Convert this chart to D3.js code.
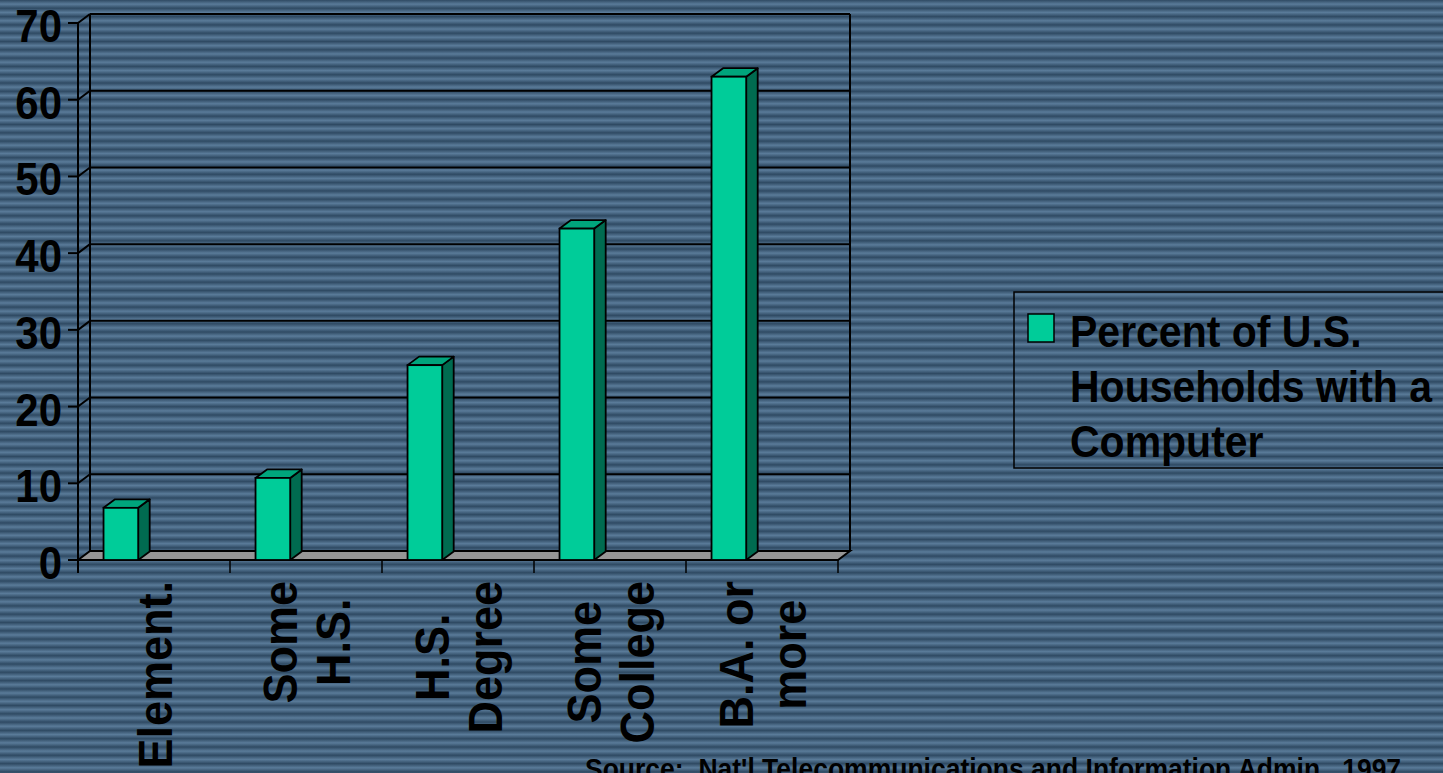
<!DOCTYPE html>
<html>
<head>
<meta charset="utf-8">
<script src="https://cdn.jsdelivr.net/npm/d3@7"></script>
<style>
  html, body { margin: 0; padding: 0; }
  body {
    width: 1443px; height: 773px; overflow: hidden;
    background: repeating-linear-gradient(180deg,
      #2f4a63 0px, #5a7b99 4.15px, #2f4a63 8.3px);
  }
  svg { display: block; }
  text { font-family: "Liberation Sans", Arial, sans-serif; font-weight: bold; fill: #000; }
</style>
</head>
<body>
<svg id="chart" width="1443" height="773"></svg>
<script>
// Household computer ownership by education level, 1997
const categories = ["Element.", "Some H.S.", "H.S. Degree", "Some College", "B.A. or more"];
const labelLines = [["Element."], ["Some", "H.S."], ["H.S.", "Degree"], ["Some", "College"], ["B.A. or", "more"]];
const values = [6.8, 10.7, 25.4, 43.2, 63.0];
const yTicks = [0, 10, 20, 30, 40, 50, 60, 70];
const seriesName = ["Percent of U.S.", "Households with a", "Computer"];
const sourceNote = "Source:\u00a0 Nat'l Telecommunications and Information Admin., 1997";

const svg = d3.select("#chart");
const stretch = 1.08;   // glyphs drawn slightly taller than wide

// front plane scales
const x = d3.scaleBand().domain(categories).range([78, 838]).paddingInner(0).paddingOuter(0);
const y = d3.scaleLinear().domain([0, 70]).range([560, 23]);
const wallDx = 12, wallDy = -9;    // depth offset of back wall
const barDx = 11.5, barDy = -8.5;  // depth of each column

const frame = svg.append("g").attr("stroke", "#000").attr("fill", "none");

// floor
const x0 = x.range()[0], x1 = x.range()[1], yBase = y(0);
svg.append("polygon")
  .attr("points", [[x0, yBase], [x1, yBase], [x1 + wallDx, yBase + wallDy], [x0 + wallDx, yBase + wallDy]].map(p => p.join(",")).join(" "))
  .attr("fill", "#969696").attr("stroke", "#000").attr("stroke-width", 2);

// back wall gridlines, side-wall diagonals and axis ticks
yTicks.forEach(v => {
  const yy = y(v);
  frame.append("line").attr("x1", x0 - 10).attr("x2", x0).attr("y1", yy).attr("y2", yy).attr("stroke-width", 2);
  if (v > 0) {
    frame.append("line").attr("x1", x0).attr("y1", yy).attr("x2", x0 + wallDx).attr("y2", yy + wallDy).attr("stroke-width", 2);
    frame.append("line").attr("x1", x0 + wallDx).attr("x2", x1 + wallDx)
      .attr("y1", yy + wallDy).attr("y2", yy + wallDy).attr("stroke-width", 2);
  }
});
// wall edges
frame.append("line").attr("x1", x0 + wallDx).attr("x2", x0 + wallDx)
  .attr("y1", y(70) + wallDy).attr("y2", yBase + wallDy).attr("stroke-width", 2);
frame.append("line").attr("x1", x1 + wallDx).attr("x2", x1 + wallDx)
  .attr("y1", y(70) + wallDy).attr("y2", yBase + wallDy).attr("stroke-width", 2);
// front value axis
frame.append("line").attr("x1", x0).attr("x2", x0).attr("y1", y(70)).attr("y2", yBase + 13).attr("stroke-width", 2);
// category axis with tick marks at band edges
frame.append("line").attr("x1", x0).attr("x2", x1).attr("y1", yBase).attr("y2", yBase).attr("stroke-width", 2);
categories.concat([null]).forEach((c, i) => {
  const xx = c === null ? x1 : x(c);
  frame.append("line").attr("x1", xx).attr("x2", xx).attr("y1", yBase).attr("y2", yBase + 13).attr("stroke-width", 1.5);
});

// y tick labels
svg.append("g").selectAll("text").data(yTicks).join("text")
  .attr("transform", d => `translate(62,${y(d) + 19}) scale(1,${stretch})`)
  .attr("text-anchor", "end")
  .attr("font-size", 42)
  .text(d => d);

// columns
const bw = x.bandwidth();
const bars = svg.append("g").selectAll("g").data(categories.map((c, i) => ({ c, v: values[i] }))).join("g");
bars.each(function (d) {
  const g = d3.select(this);
  const bx0 = x(d.c) + bw * 0.168, bx1 = bx0 + bw * 0.228;
  const top = y(d.v);
  const pts = a => a.map(p => p.join(",")).join(" ");
  g.append("polygon")
    .attr("points", pts([[bx1, yBase], [bx1 + barDx, yBase + barDy], [bx1 + barDx, top + barDy], [bx1, top]]))
    .attr("fill", "#006b50").attr("stroke", "#000").attr("stroke-width", 1.8).attr("stroke-linejoin", "round");
  g.append("polygon")
    .attr("points", pts([[bx0, top], [bx1, top], [bx1 + barDx, top + barDy], [bx0 + barDx, top + barDy]]))
    .attr("fill", "#00a57c").attr("stroke", "#000").attr("stroke-width", 1.8).attr("stroke-linejoin", "round");
  g.append("rect")
    .attr("x", bx0).attr("y", top).attr("width", bx1 - bx0).attr("height", yBase - top)
    .attr("fill", "#00cc99").attr("stroke", "#000").attr("stroke-width", 1.8);
});

// rotated category labels
const capH = 35, lineStep = 53, labelTop = 581;
const catG = svg.append("g");
labelLines.forEach((lines, i) => {
  const cx = x(categories[i]) + bw / 2;
  const left = cx - (capH + (lines.length - 1) * lineStep) / 2;
  // measure longest line to centre the block below the axis
  const tmp = catG.append("text").attr("font-size", 45);
  let maxLen = 0;
  lines.forEach(l => { tmp.text(l); maxLen = Math.max(maxLen, tmp.node().getComputedTextLength()); });
  tmp.remove();
  const cy = labelTop + maxLen / 2;
  lines.forEach((l, j) => {
    catG.append("text")
      .attr("transform", `translate(${left + capH + j * lineStep},${cy}) rotate(-90) scale(1,${stretch})`)
      .attr("text-anchor", "middle")
      .attr("font-size", 45)
      .text(l);
  });
});

// legend
const lg = svg.append("g");
lg.append("rect").attr("x", 1014).attr("y", 292).attr("width", 460).attr("height", 176)
  .attr("fill", "none").attr("stroke", "#000").attr("stroke-width", 1.5);
lg.append("rect").attr("x", 1028).attr("y", 314).attr("width", 26).attr("height", 28)
  .attr("fill", "#00cc99").attr("stroke", "#000").attr("stroke-width", 1.5);
seriesName.forEach((t, i) => {
  lg.append("text")
    .attr("transform", `translate(1070,${347 + i * 55}) scale(1,${stretch})`)
    .attr("font-size", 41)
    .text(t);
});

// source note
svg.append("text")
  .attr("transform", `translate(585,779) scale(1,${stretch})`)
  .attr("font-size", 26.5)
  .text(sourceNote);
</script>
</body>
</html>
